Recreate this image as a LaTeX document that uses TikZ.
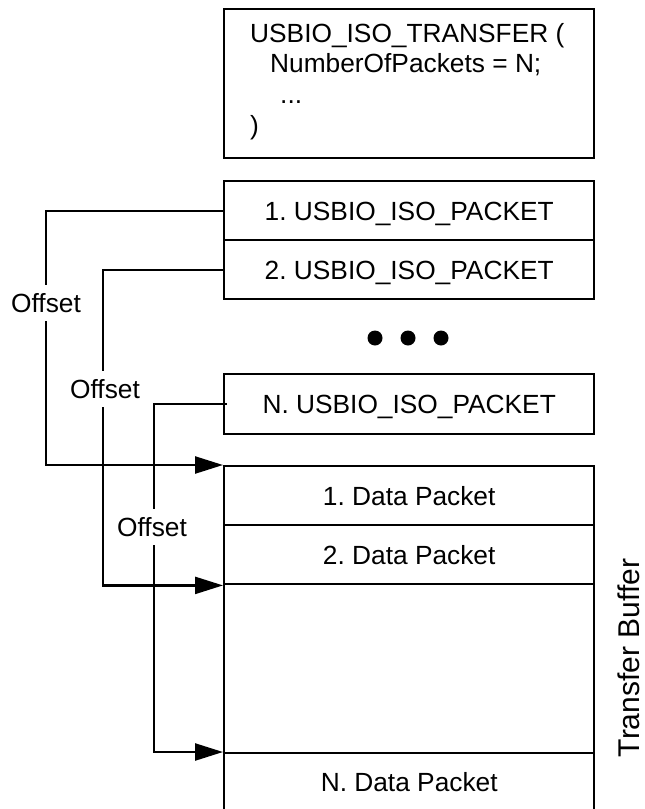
\documentclass[tikz,border=0pt]{standalone}
\usepackage{fontspec}
\setmainfont{Liberation Sans}
\usetikzlibrary{arrows.meta}
\begin{document}
\frenchspacing
\begin{tikzpicture}[x=1pt,y=-1pt,
  every node/.style={font=\fontsize{26.3}{31}\selectfont},
  box/.style={draw, line width=2.4pt, minimum width=370pt, inner sep=0pt, text height=18.8pt, text depth=0pt, anchor=north west},
  txt/.style={inner sep=0pt, anchor=base west},
  conn/.style={line width=2.4pt},
  arr/.style={conn, -{Triangle[length=28pt,width=17pt]}},
  offs/.style={fill=white, inner xsep=2pt, inner ysep=8pt},
  dotnode/.style={circle, fill=black, minimum size=15pt, inner sep=0pt}]
\useasboundingbox (0,0) rectangle (645,809);
\clip (0,0) rectangle (645,809);
% top box
\node[box, minimum height=149pt] (tb) at (223,8) {};
\node[txt] (t1) at (250,42) {USBIO\_ISO\_TRANSFER (};
\node[txt] (t2) at (270,72.5) {NumberOfPackets = N;};
\node[txt] (t3) at (280,103) {...};
\node[txt] (t4) at (250,134) {)};
% packet boxes
\node[box, minimum height=59pt] (p1) at (223,180) {1. USBIO\_ISO\_PACKET};
\node[box, minimum height=59pt] (p2) at (223,239) {2. USBIO\_ISO\_PACKET};
\node[dotnode] (dotA) at (375,338) {};
\node[dotnode] (dotB) at (408,338) {};
\node[dotnode] (dotC) at (441,338) {};
\node[box, minimum height=60pt] (pN) at (223,373) {N. USBIO\_ISO\_PACKET};
% transfer buffer
\node[box, minimum height=59pt] (d1) at (223,465) {1. Data Packet};
\node[box, minimum height=59pt] (d2) at (223,524) {2. Data Packet};
\node[box, minimum height=169pt] (dg) at (223,583) {};
\node[box, minimum height=58pt] (dN) at (223,752) {N. Data Packet};
\node[rotate=90, inner sep=0pt, font=\fontsize{30}{36}\selectfont] (tbuf) at (629,658) {Transfer Buffer};
% connectors
\coordinate (c1) at (46,0);
\coordinate (c2) at (103,0);
\coordinate (c3) at (154,0);
\draw[arr] (p1.west) -- (p1.west -| c1) |- (d1.north west);
\draw[arr] (p2.west) -- (p2.west -| c2) |- (d2.south west);
\draw[arr] ([xshift=4pt]pN.west) -- (pN.west -| c3) |- (dN.north west);
\node[offs] (o1) at (46,303) {Offset};
\node[offs] (o2) at (105,389) {Offset};
\node[offs] (o3) at (152,527) {Offset};
\end{tikzpicture}
\end{document}
